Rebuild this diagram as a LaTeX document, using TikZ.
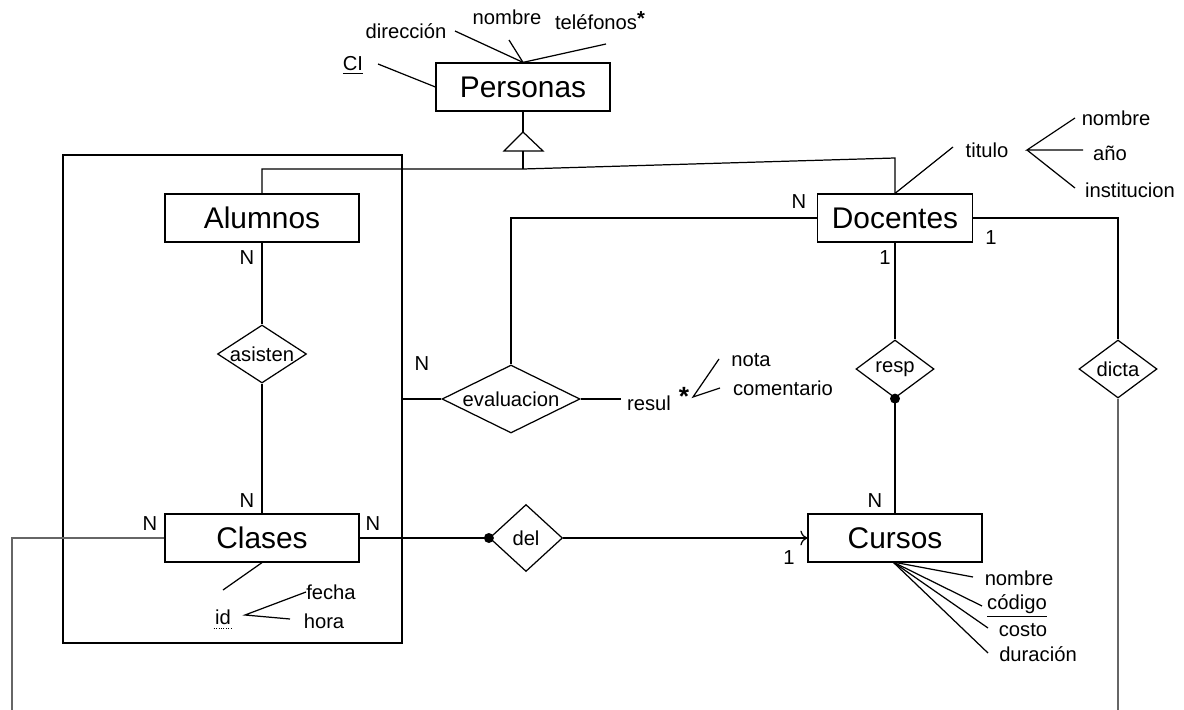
\documentclass[tikz,border=0pt]{standalone}
\usepackage{fontspec}
\setmainfont{Liberation Sans}
\usepackage{tikz}
\usetikzlibrary{arrows.meta,shapes.geometric}

\begin{document}
\begin{tikzpicture}[x=0.02cm, y=-0.02cm, line width=0.7pt,
    ent/.style={draw, fill=white, inner sep=0pt, minimum height=0.96cm,
                font=\fontsize{17}{19}\selectfont},
    rel/.style={diamond, draw, fill=white, inner sep=0pt,
                font=\fontsize{11.5}{13}\selectfont},
    attr/.style={inner sep=0.5pt, font=\fontsize{11.5}{13}\selectfont},
    card/.style={inner sep=0pt, font=\fontsize{11.5}{13}\selectfont},
    dot/.style={circle, fill, inner sep=0pt, minimum size=0.2cm}]
  \useasboundingbox (0,0) rectangle (1184,710);
  % the aggregation round Alumnos, asisten and Clases
  \node[draw, inner sep=0pt, minimum width=6.78cm, minimum height=9.76cm]
    (agg) at (232.5,399) {};
  % entities
  \node[ent, minimum width=3.48cm] (personas) at (523,87) {Personas};
  \node[ent, minimum width=3.88cm] (alumnos) at (262,218) {Alumnos};
  \node[ent, minimum width=3.88cm] (clases) at (262,538) {Clases};
  \node[ent, minimum width=3.1cm] (docentes) at (895,218) {Docentes};
  \node[ent, minimum width=3.48cm] (cursos) at (895,538) {Cursos};
  % relationships
  \node[rel, minimum width=1.78cm, minimum height=1.16cm, aspect=1.53]
    (asisten) at (262,354) {asisten};
  \node[rel, minimum width=2.76cm, minimum height=1.36cm, aspect=2.03]
    (evaluacion) at (511,399) {evaluacion};
  \node[rel, minimum width=1.46cm, minimum height=1.34cm, aspect=1.09]
    (del) at (526,538) {del};
  \node[rel, minimum width=1.56cm, minimum height=1.16cm, aspect=1.34]
    (resp) at (895,369) {resp};
  \node[rel, minimum width=1.56cm, minimum height=1.16cm, aspect=1.34]
    (dicta) at (1118,369) {dicta};
  % generalization of Personas
  \coordinate (apex) at (523,132);
  \coordinate (isa) at (523,169);
  \draw (personas.south) -- (apex);
  \draw (apex) -- ++(20,19) -- ++(-39,0) -- cycle;
  \draw (523,151) -- (isa);
  \draw (alumnos.north) |- (isa) -- (docentes.north |- 0,158) -- (docentes.north);
  % links
  \draw (alumnos) -- (asisten) -- (clases);
  \draw (clases.east) -- (del.west);
  \draw[-{To[length=4pt]}] (del.east) -- (cursos.west);
  \node[dot] at (del.west) {};
  \draw (docentes.south) -- (resp.north);
  \draw (resp.south) -- (cursos.north);
  \node[dot] at (resp.south) {};
  \draw (docentes.west) -| (evaluacion.north);
  \draw (evaluacion.west) -- (agg.east);
  \draw (docentes.east) -| (dicta.north);
  % the two ends that leave the picture
  \coordinate (offL) at (12,710);
  \coordinate (offR) at (1118,710);
  \draw[black!60] (clases.west) -| (offL);
  \draw[black!60] (dicta.south) -- (offR);
  % cardinalities
  \node[card] at (247,258) {N};
  \node[card] at (247,501) {N};
  \node[card] at (150,524) {N};
  \node[card] at (373,524) {N};
  \node[card] at (422,364) {N};
  \node[card] at (799,202) {N};
  \node[card] at (991,238) {1};
  \node[card] at (885,258) {1};
  \node[card] at (789,558) {1};
  \node[card] at (875,501) {N};
  % attributes of Personas
  \node[attr] (pci) at (353,65) {\underline{CI}};
  \node[attr] (pdir) at (406,31) {dirección};
  \node[attr] (pnom) at (507,17) {nombre};
  \node[attr] (ptel) at (600,21) {teléfonos\raisebox{0.4ex}{\textbf{*}}};
  \draw (378,64) -- (personas.west);
  \draw (455,31) -- (personas.north);
  \draw (509,40) -- (personas.north);
  \draw (606,44) -- (personas.north);
  % attributes of Docentes
  \node[attr] (dtit) at (987,150) {titulo};
  \node[attr] (dnom) at (1116,118) {nombre};
  \node[attr] (dano) at (1110,153) {año};
  \node[attr] (dins) at (1130,190) {institucion};
  \draw (docentes.north) -- (953,147);
  \draw (1075,118) -- (1027,150) -- (1083,150);
  \draw (1027,150) -- (1075,188);
  % attribute of evaluacion
  \node[attr] (eres) at (649,403) {resul};
  \node[attr, font=\fontsize{15}{17}\selectfont\bfseries] (estar) at (684,396) {*};
  \node[attr] (enot) at (751,360) {nota};
  \node[attr] (ecom) at (783,388) {comentario};
  \draw (evaluacion.east) -- (621,399);
  \draw (719,359) -- (693,397) -- (720,388);
  % attributes of Clases
  \node[attr] (cid) at (223,617) {id};
  \node[attr] (cfec) at (331,592) {fecha};
  \node[attr] (chor) at (324,621) {hora};
  \draw[densely dotted, line width=0.4pt] ([yshift=-1.5pt]cid.south west)
    -- ([yshift=-1.5pt]cid.south east);
  \draw (clases.south) -- (223,590);
  \draw (306,592) -- (245,615) -- (290,619);
  % attributes of Cursos
  \node[attr] (knom) at (1019,578) {nombre};
  \node[attr] (kcod) at (1017,606) {\underline{código}};
  \node[attr] (kcos) at (1023,630) {costo};
  \node[attr] (kdur) at (1038,654) {duración};
  \foreach \x/\y in {973/577, 982/606, 988/628, 988/653}{
    \draw (893,562) -- (\x,\y);}
\end{tikzpicture}
\end{document}
